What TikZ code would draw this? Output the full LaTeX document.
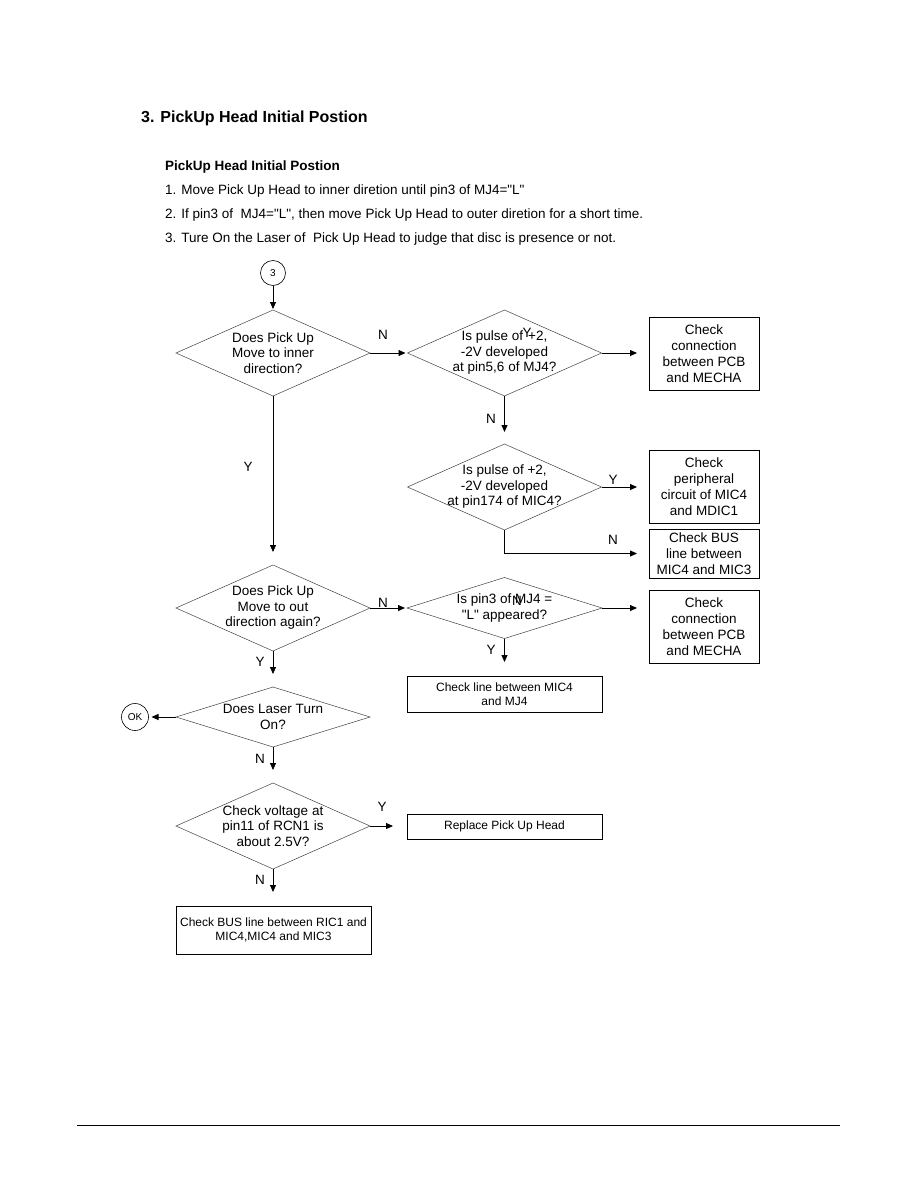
\documentclass[tikz,border=0pt]{standalone}
\usepackage{fontspec}
\setmainfont{Liberation Sans}
\usetikzlibrary{shapes.geometric,arrows.meta,calc}
\begin{document}
\begin{tikzpicture}[x=1pt,y=-1pt,
  dia/.style={draw=black!75, line width=0.5pt, diamond, minimum width=194pt, minimum height=86pt, inner sep=0pt, outer sep=0pt},
  txt/.style={align=center, font=\fontsize{13.5}{15.5}\selectfont, inner sep=0pt},
  lab/.style={font=\fontsize{13.5}{15.5}\selectfont, inner sep=0pt},
  nbox/.style={draw, line width=0.8pt, minimum width=110pt, align=center, font=\fontsize{13.5}{16}\selectfont, inner sep=0pt, outer sep=0pt},
  wbox/.style={draw, line width=0.8pt, minimum width=195pt, align=center, font=\fontsize{12}{14.5}\selectfont, inner sep=0pt, outer sep=0pt},
  circ/.style={draw, circle, line width=0.6pt, minimum size=25pt, inner sep=0pt, outer sep=0pt, font=\fontsize{10}{12}\selectfont},
  arr/.style={-{Triangle[length=7pt,width=6pt]}, line width=0.8pt},
  head/.style={anchor=base west, inner sep=0pt, font=\fontsize{13.5}{16}\selectfont},
]
\useasboundingbox (0,0) rectangle (918,1188);

% header
\node[anchor=base west, inner sep=0pt, font=\bfseries\fontsize{16}{19}\selectfont] (title) at (141,123) {3. PickUp Head Initial Postion};
\node[head, font=\bfseries\fontsize{13.5}{16}\selectfont] (sub) at (165,170) {PickUp Head Initial Postion};
\node[head] (l1) at (165,194) {1. Move Pick Up Head to inner diretion until pin3 of MJ4=\textquotedbl L\textquotedbl};
\node[head] (l2) at (165,218) {2. If pin3 of \ MJ4=\textquotedbl L\textquotedbl, then move Pick Up Head to outer diretion for a short time.};
\node[head] (l3) at (165,242) {3. Ture On the Laser of \ Pick Up Head to judge that disc is presence or not.};

% flowchart shapes
\node[circ] (c3) at (273,273) {3};
\node[dia] (d1) at (273,353) {};
\node[txt] (d1t) at (d1.center) {Does Pick Up\\Move to inner\\direction?};
\node[dia] (d2) at (504.5,353) {};
\node[txt] (d2t) at (d2.center) {Is pulse of\hspace{5pt}+2,\\-2V developed\\at pin5,6 of MJ4?};
\node[nbox, minimum height=73pt] (b1) at (704,353.5) {Check\\connection\\between PCB\\and MECHA};

\node[dia] (d3) at (504.5,487) {};
\node[txt] (d3t) at (d3.center) {Is pulse of +2,\\-2V developed\\at pin174 of MIC4?};
\node[nbox, minimum height=73pt] (b2) at (704,486.5) {Check\\peripheral\\circuit of MIC4\\and MDIC1};
\node[nbox, minimum height=49pt] (b3) at (704,553.5) {Check BUS\\line between\\MIC4 and MIC3};

\node[dia] (d4) at (273,608) {};
\node[txt] (d4t) at (d4.center) {Does Pick Up\\Move to out\\direction again?};
\node[dia, minimum width=195pt, minimum height=61pt] (d5) at (504.5,608) {};
\node[txt] (d5t) at (d5.center) {Is pin3 of MJ4 =\\\textquotedbl L\textquotedbl\ appeared?};
\node[nbox, minimum height=73pt] (b4) at (704,626.5) {Check\\connection\\between PCB\\and MECHA};
\node[wbox, minimum height=36pt] (b5) at (504.5,694) {Check line between MIC4\\and MJ4};

\node[dia, minimum height=60pt] (d6) at (273,717) {};
\node[txt] (d6t) at (d6.center) {Does Laser Turn\\On?};
\node[circ, minimum size=27pt] (ok) at (135,717) {OK};

\node[dia] (d7) at (273,826) {};
\node[txt] (d7t) at (d7.center) {Check voltage at\\pin11 of RCN1 is\\about 2.5V?};
\node[wbox, minimum height=25pt] (b6) at (504.5,826.5) {Replace Pick Up Head};
\node[wbox, minimum height=48pt] (b7) at (273.5,930) {Check BUS line between RIC1 and\\MIC4,MIC4 and MIC3};

% connectors
\draw[arr, shorten >=1pt] (c3) -- (d1.north);
\draw[arr, shorten >=2pt] (d1.east) -- (d2.west);
\draw[arr, shorten >=12pt] (d2.east) -- (d2.east -| b1.west);
\draw[arr, shorten >=12pt] (d2.south) -- (d3.north);
\draw[arr, shorten >=12pt] (d3.east) -- (d3.east -| b2.west);
\draw[arr, shorten >=12pt] (d3.south) |- (b3.west);
\draw[arr, shorten >=13pt] (d1.south) -- (d4.north);
\draw[arr, shorten >=2pt] (d4.east) -- (d5.west);
\draw[arr, shorten >=12pt] (d5.east) -- (d5.east -| b4.west);
\draw[arr, shorten >=14pt] (d5.south) -- (d5.south |- b5.north);
\draw[arr, shorten >=13pt] (d4.south) -- (d6.north);
\draw[arr, shorten >=3pt] (d6.west) -- (ok.east);
\draw[arr, shorten >=13pt] (d6.south) -- (d7.north);
\draw[arr, shorten >=14pt] (d7.east) -- (d7.east -| b6.west);
\draw[arr, shorten >=14pt] (d7.south) -- (d7.south |- b7.north);

% labels
\node[lab] (n1) at (383,335) {N};
\node[lab] (y1) at (527,333) {Y};
\node[lab] (n2) at (491,419) {N};
\node[lab] (y2) at (613,480) {Y};
\node[lab] (n3) at (613,540) {N};
\node[lab] (y3) at (248,467) {Y};
\node[lab] (n4) at (383,603) {N};
\node[lab] (n5) at (517,601) {N};
\node[lab] (y4) at (491,650) {Y};
\node[lab] (y5) at (260,662) {Y};
\node[lab] (n6) at (260,759) {N};
\node[lab] (y6) at (382,807) {Y};
\node[lab] (n7) at (260,880) {N};

% footer rule
\coordinate (fl) at (77,1125);
\coordinate (fr) at (840,1125);
\draw[line width=1pt] (fl) -- (fr);
\end{tikzpicture}
\end{document}
